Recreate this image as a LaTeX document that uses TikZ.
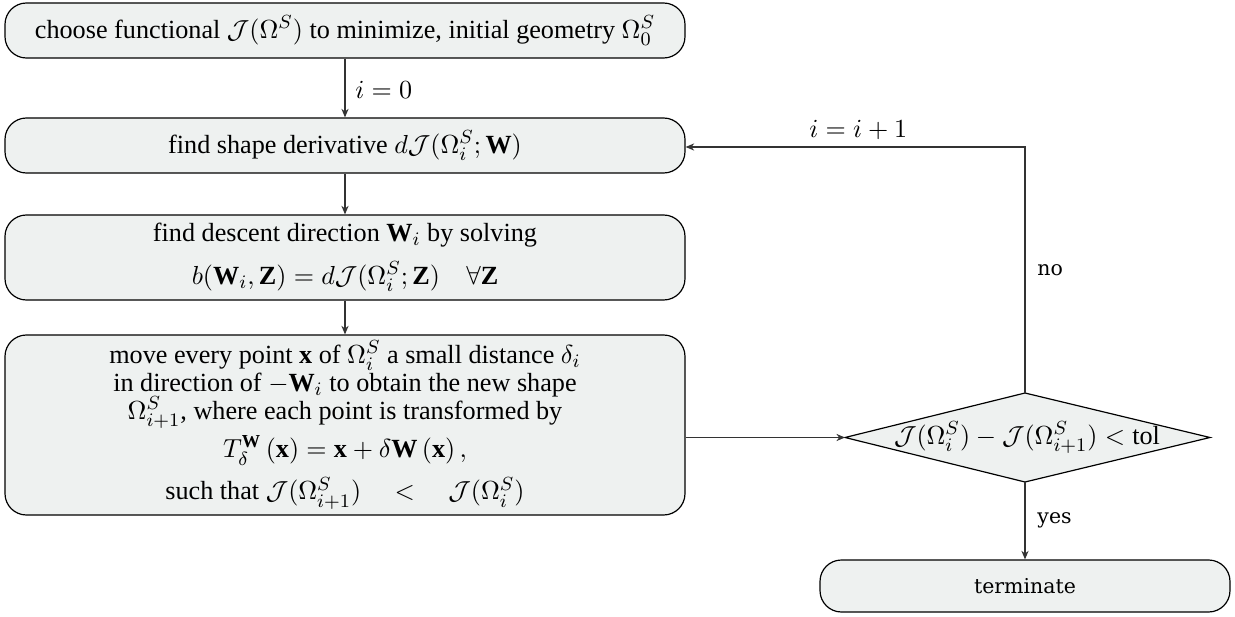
\documentclass[tikz,border=0pt]{standalone}
\usepackage{amsmath,amssymb}
\usepackage{fontspec}
\setmainfont{Liberation Serif}
\newfontfamily\labfont{DejaVu Serif}
\usetikzlibrary{shapes.geometric,arrows.meta}
\definecolor{boxfill}{RGB}{238,241,240}
\tikzset{
  procbox/.style={draw=black, fill=boxfill, rounded corners=9pt, line width=0.5pt,
    minimum width=#1*0.42pt, align=center, inner sep=0pt, font=\fontsize{11}{11.8}\selectfont},
  decshape/.style={draw=black, fill=boxfill, line width=0.5pt},
  dectext/.style={inner sep=0pt, font=\fontsize{11}{12}\selectfont},
  conn/.style={draw=black!80, line width=0.5pt, -{Stealth[length=3.6pt,width=3pt]}},
  lab/.style={font=\fontsize{11}{12}\selectfont, inner sep=0pt, anchor=west},
  wlab/.style={font=\labfont\fontsize{8.6}{10}\selectfont, inner sep=0pt, anchor=west}
}
\begin{document}
\begin{tikzpicture}[x=0.42pt,y=-0.42pt]
\useasboundingbox (0,0) rectangle (1235,617);
\node[procbox=680, minimum height=55*0.42pt] (b1) at (345,30.5)
  {choose functional $\mathcal{J}(\Omega^S)$ to minimize, initial geometry $\Omega^S_0$};
\node[procbox=680, minimum height=55*0.42pt] (b2) at (345,145.5)
  {find shape derivative $d\mathcal{J}(\Omega^S_i;\mathbf{W})$};
\node[procbox=680, minimum height=85*0.42pt] (b3) at (345,257.5)
  {find descent direction $\mathbf{W}_i$ by solving\\[5pt]
   $b(\mathbf{W}_i,\mathbf{Z}) = d\mathcal{J}(\Omega^S_i;\mathbf{Z})\quad\forall\mathbf{Z}$};
\node[procbox=680, minimum height=180*0.42pt] (b4) at (345,425)
  {move every point $\mathbf{x}$ of $\Omega^S_i$ a small distance $\delta_i$\\
   in direction of $-\mathbf{W}_i$ to obtain the new shape\\
   $\Omega^S_{i+1}$, where each point is transformed by\\[2pt]
   $T^{\mathbf{W}}_{\delta}\left(\mathbf{x}\right) = \mathbf{x} + \delta\mathbf{W}\left(\mathbf{x}\right),$\\[4pt]
   such that $\mathcal{J}(\Omega^S_{i+1})\quad<\quad\mathcal{J}(\Omega^S_i)$};
% decision diamond
\coordinate (dW) at (845,437.5);
\coordinate (dN) at (1025,393);
\coordinate (dE) at (1210,437.5);
\coordinate (dS) at (1025,482);
\path[decshape] (dW) -- (dN) -- (dE) -- (dS) -- cycle;
\node[dectext] (d) at (1027,437.5)
  {$\mathcal{J}(\Omega^S_i)-\mathcal{J}(\Omega^S_{i+1})<\text{tol}$};
\node[procbox=410, minimum height=52*0.42pt, font=\labfont\fontsize{8.6}{10}\selectfont] (t) at (1025,586) {terminate};
\coordinate (c1) at (1025,147);
\draw[conn] (b1) -- (b2);
\draw[conn] (b2) -- (b3);
\draw[conn] (b3) -- (b4);
\draw[conn] (b4.east |- dW) -- (dW);
\draw[conn] (dS) -- (t.north);
\draw[conn] (dN) -- (c1) -- (b2.east |- c1);
\node[lab] (l0) at (355,90) {$i=0$};
\node[lab] (l1) at (809,130) {$i=i+1$};
\node[wlab] (ln) at (1037,270) {no};
\node[wlab] (ly) at (1037,520) {yes};
\end{tikzpicture}
\end{document}
